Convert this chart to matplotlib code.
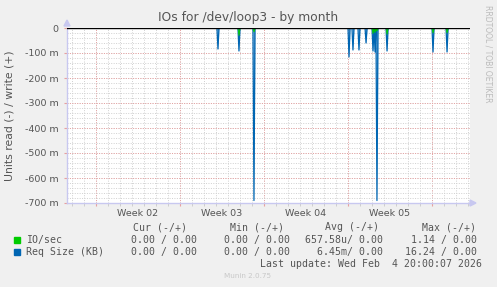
"""Munin style 'IOs for /dev/loop3 - by month' chart."""

import matplotlib

matplotlib.use("Agg")

import matplotlib.pyplot as plt
import numpy as np
from matplotlib.ticker import FixedLocator, MultipleLocator, FuncFormatter

W, H = 497, 287

# --- data (x in days from left edge of the graph, values in units) ---
spike_day = [12.58, 14.33, 15.58, 23.50, 23.83, 24.33, 24.92, 25.50, 25.67, 25.83, 26.67, 30.50, 31.67]
req_size_read = [-0.084, -0.092, -0.690, -0.116, -0.088, -0.088, -0.060, -0.092, -0.096, -0.690, -0.092, -0.096, -0.096]
io_read = [0.0, -0.030, -0.016, 0.0, 0.0, 0.0, 0.0, -0.022, -0.018, -0.012, -0.025, -0.020, -0.020]

week_labels = ["Week 02", "Week 03", "Week 04", "Week 05"]
y_ticks = [0, -0.1, -0.2, -0.3, -0.4, -0.5, -0.6, -0.7]

legend_names = ["IO/sec", "Req Size (KB)"]
legend_colors = ["#00CC00", "#0066B3"]
col_headers = ["Cur (-/+)", "Min (-/+)", "Avg (-/+)", "Max (-/+)"]
io_vals = ["0.00 / 0.00", "0.00 / 0.00", "657.58u/ 0.00", "1.14 / 0.00"]
req_vals = ["0.00 / 0.00", "0.00 / 0.00", "6.45m/ 0.00", "16.24 / 0.00"]
last_update = "Last update: Wed Feb  4 20:00:07 2026"

X_END = 403 / 12.0          # 12 px per day
WEEK0 = 2.39                # first week boundary
STEP = 1 / 12.0             # 2 hour resolution


def _spikes(days, vals):
    xs, ys = [0.0], [0.0]
    for d, v in zip(days, vals):
        xs += [d - STEP, d, d + STEP]
        ys += [0.0, v, 0.0]
    xs.append(X_END)
    ys.append(0.0)
    return np.array(xs), np.array(ys)


def fx(px):
    return px / W


def fy(py):
    return 1 - py / H


fig = plt.figure(figsize=(W / 100, H / 100), dpi=100, facecolor="#F0F0F0")
ax = fig.add_axes([fx(67), fy(203), 403 / W, 175 / H])
ax.set_facecolor("white")

# grid
for d in np.arange(WEEK0 % 1, X_END, 1.0):
    ax.axvline(d, color="#D0D0D0", lw=0.7, ls=(0, (1, 1.5)), zorder=0)
for d in np.arange(WEEK0, X_END, 7.0):
    ax.axvline(d, color="#E8A0A0", lw=0.7, ls=(0, (1, 1.5)), zorder=0)
for v in np.arange(-0.7, 0.0, 0.02):
    ax.axhline(v, color="#D0D0D0", lw=0.7, ls=(0, (1, 1.5)), zorder=0)
for v in y_ticks[1:]:
    ax.axhline(v, color="#E8A0A0", lw=0.7, ls=(0, (1, 1.5)), zorder=0)

xr, yr = _spikes(spike_day, req_size_read)
ax.fill_between(xr, yr, 0, color=legend_colors[1], alpha=0.5, lw=0, zorder=2)
ax.plot(xr, yr, color=legend_colors[1], lw=0.9, zorder=3)
xi, yi = _spikes(spike_day, io_read)
ax.fill_between(xi, yi, 0, color=legend_colors[0], alpha=0.5, lw=0, zorder=4)
ax.plot(xi, yi, color=legend_colors[0], lw=0.6, zorder=4)

ax.axhline(0, color="black", lw=1.0, zorder=5)

ax.set_xlim(0, X_END)
ax.set_ylim(-0.7, 0.0)

# ticks
ax.xaxis.set_major_locator(FixedLocator(np.arange(WEEK0, X_END, 7.0)))
ax.xaxis.set_minor_locator(FixedLocator(np.arange(WEEK0 % 1, X_END, 1.0)))
ax.set_xticklabels([])
ax.tick_params(axis="x", which="major", length=2, color="#E8A0A0", width=0.8)
ax.tick_params(axis="x", which="minor", length=2, color="#C8C8C8", width=0.6)
ax.yaxis.set_major_locator(FixedLocator(y_ticks))
ax.yaxis.set_minor_locator(MultipleLocator(0.02))
ax.yaxis.set_major_formatter(FuncFormatter(lambda v, _: "0" if abs(v) < 1e-9 else f"{v * 1000:.0f} m"))
ax.tick_params(axis="y", which="major", length=2, color="#E8A0A0", width=0.8,
               labelsize=6.8, labelcolor="#555555", pad=4)
ax.tick_params(axis="y", which="minor", length=0)

for s in ["top", "right"]:
    ax.spines[s].set_visible(False)
for s in ["left", "bottom"]:
    ax.spines[s].set_color("#C8C8F0")
    ax.spines[s].set_linewidth(1.0)

# axis arrows
fig.patches.append(plt.Polygon([(fx(64), fy(26)), (fx(70), fy(26)), (fx(67), fy(20))],
                               closed=True, transform=fig.transFigure, color="#C8C8F0"))
fig.patches.append(plt.Polygon([(fx(470), fy(200)), (fx(470), fy(206)), (fx(476), fy(203))],
                               closed=True, transform=fig.transFigure, color="#C8C8F0"))

for i, lab in enumerate(week_labels):
    d = WEEK0 + 3.5 + 7 * i
    fig.text(fx(67 + d * 12), fy(213), lab, ha="center", va="center",
             fontsize=6.8, color="#555555")

fig.text(fx(248), fy(18), "IOs for /dev/loop3 - by month", ha="center", va="center",
         fontsize=8.8, color="#555555")
fig.text(fx(10), fy(116), "Units read (-) / write (+)", ha="center", va="center",
         rotation=90, fontsize=7.8, color="#555555")
fig.text(fx(488), fy(5), "RRDTOOL / TOBI OETIKER", ha="center", va="top",
         rotation=270, fontsize=5.5, color="#BBBBBB")

mono = "DejaVu Sans Mono"
hdr_x = [187, 284, 379, 476]
val_x = [197, 290, 383, 477]
for x, t in zip(hdr_x, col_headers):
    fig.text(fx(x), fy(227), t, ha="right", va="center", fontsize=7.1,
             family=mono, color="#555555")
for row_y, name, color, vals in [(240, legend_names[0], legend_colors[0], io_vals),
                                 (252, legend_names[1], legend_colors[1], req_vals)]:
    fig.patches.append(plt.Rectangle((fx(14), fy(row_y + 3)), 6 / W, 6 / H,
                                     transform=fig.transFigure, color=color))
    fig.text(fx(26), fy(row_y), name, ha="left", va="center", fontsize=7.1,
             family=mono, color="#555555")
    for x, t in zip(val_x, vals):
        fig.text(fx(x), fy(row_y), t, ha="right", va="center", fontsize=7.1,
                 family=mono, color="#555555")
fig.text(fx(482), fy(264), last_update, ha="right", va="center", fontsize=7.1,
         family=mono, color="#555555")
fig.text(fx(248), fy(276), "Munin 2.0.75", ha="center", va="center",
         fontsize=5.2, color="#C8C8C8")

fig.savefig("out.png", dpi=100, facecolor=fig.get_facecolor())
